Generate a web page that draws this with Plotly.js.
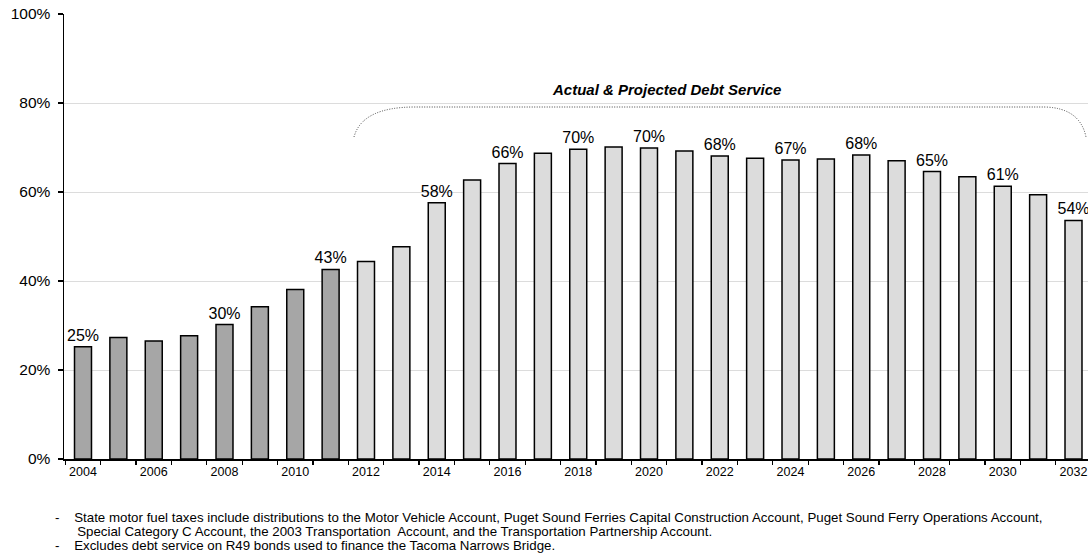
<!DOCTYPE html>
<html>
<head>
<meta charset="utf-8">
<script src="https://cdn.plot.ly/plotly-3.0.1.min.js"></script>
<style>
  html, body { margin: 0; padding: 0; background: #fff; }
  #chart { width: 1088px; height: 557px; }
</style>
</head>
<body>
<div id="chart"></div>
<script>
// ---- Data ----
const years = ['2004','2005','2006','2007','2008','2009','2010','2011','2012','2013','2014','2015','2016','2017','2018','2019','2020','2021','2022','2023','2024','2025','2026','2027','2028','2029','2030','2031','2032'];
const debtSharePct = [25.2, 27.3, 26.5, 27.7, 30.2, 34.2, 38.1, 42.6, 44.4, 47.7, 57.6, 62.7, 66.4, 68.7, 69.6, 70.1, 69.9, 69.2, 68.1, 67.6, 67.2, 67.4, 68.3, 67.0, 64.6, 63.4, 61.3, 59.4, 53.6];
const actualYears = ['2004','2005','2006','2007','2008','2009','2010','2011'];
const labelYears = ['2004','2008','2011','2014','2016','2018','2020','2022','2024','2026','2028','2030','2032'];
const yTickVals = [0, 20, 40, 60, 80, 100];
const annotationText = 'Actual & Projected Debt Service';
const footnoteLines = [
  '-&nbsp;&nbsp;&nbsp; State motor fuel taxes include distributions to the Motor Vehicle Account, Puget Sound Ferries Capital Construction Account, Puget Sound Ferry Operations Account,',
  '&nbsp;&nbsp;&nbsp;&nbsp;&nbsp; Special Category C Account, the 2003 Transportation&nbsp; Account, and the Transportation Partnership Account.',
  '-&nbsp;&nbsp;&nbsp; Excludes debt service on R49 bonds used to finance the Tacoma Narrows Bridge.'
];

// ---- Styling ----
const DARK = '#a6a6a6', LIGHT = '#dcdcdc';
const FONT = 'Arial, "Liberation Sans", sans-serif';
const barColors = years.map(y => actualYears.includes(y) ? DARK : LIGHT);
const barText = years.map((y, i) => labelYears.includes(y) ? Math.round(debtSharePct[i]) + '%' : '');
const tickText = years.map(y => (parseInt(y, 10) % 2 === 0) ? y : '');

const W = 1088, H = 557;
const M = { l: 64, r: 0, t: 14, b: 98 };
const PW = W - M.l - M.r, PH = H - M.t - M.b;
const px = x => (x - M.l) / PW;       // pixel -> paper x (decorations only)
const py = y => (H - M.b - y) / PH;   // pixel -> paper y (decorations only)

const trace = {
  type: 'bar',
  x: years,
  y: debtSharePct,
  width: 0.48,
  marker: { color: barColors, line: { color: '#000', width: 1.5 } },
  text: barText,
  textposition: 'outside',
  constraintext: 'none',
  textfont: { family: FONT, size: 16, color: '#000' },
  cliponaxis: false,
  hoverinfo: 'x+y'
};

const bracketPath =
  'M ' + px(354) + ' ' + py(137) +
  ' Q ' + px(362) + ' ' + py(107) + ' ' + px(415) + ' ' + py(107) +
  ' L ' + px(1045) + ' ' + py(107) +
  ' Q ' + px(1080) + ' ' + py(108) + ' ' + px(1086) + ' ' + py(137);

const footY = [517, 531, 545];
const footnoteAnnotations = footnoteLines.map((t, i) => ({
  xref: 'paper', yref: 'paper',
  x: px(53), y: py(footY[i]),
  xanchor: 'left', yanchor: 'middle',
  align: 'left',
  text: t,
  showarrow: false,
  font: { family: FONT, size: 13.3, color: '#000' }
}));

const layout = {
  width: W, height: H,
  margin: M,
  paper_bgcolor: '#fff', plot_bgcolor: '#fff',
  showlegend: false,
  font: { family: FONT, color: '#000' },
  xaxis: {
    type: 'category',
    range: [-0.537, 28.41],
    tickmode: 'array',
    tickvals: years,
    ticktext: tickText,
    tickangle: 0,
    tickson: 'boundaries',
    ticks: 'outside', ticklen: 4, tickwidth: 1.3, tickcolor: '#000',
    tickfont: { size: 12.5, color: '#000' },
    showline: true, linecolor: '#000', linewidth: 1.5,
    showgrid: false, zeroline: false, fixedrange: true
  },
  yaxis: {
    range: [0, 100],
    tickmode: 'array',
    tickvals: yTickVals,
    ticktext: yTickVals.map(v => v + '%'),
    ticks: 'outside', ticklen: 5, tickwidth: 1.3, tickcolor: '#000',
    ticklabelstandoff: 4,
    tickfont: { size: 15.5, color: '#000' },
    showline: true, linecolor: '#000', linewidth: 1.5,
    showgrid: true, gridcolor: '#dcdcdc', gridwidth: 1,
    zeroline: false, fixedrange: true
  },
  shapes: [{
    type: 'path', xref: 'paper', yref: 'paper',
    path: bracketPath,
    line: { color: '#444', width: 1, dash: '1px,1.5px' }
  }],
  annotations: [
    {
      xref: 'paper', yref: 'paper',
      x: px(666), y: py(90),
      xanchor: 'center', yanchor: 'middle',
      text: '<b><i>' + annotationText + '</i></b>',
      showarrow: false,
      font: { family: FONT, size: 15, color: '#000' }
    }
  ].concat(footnoteAnnotations)
};

Plotly.newPlot('chart', [trace], layout, { displayModeBar: false, staticPlot: true });
</script>
</body>
</html>
